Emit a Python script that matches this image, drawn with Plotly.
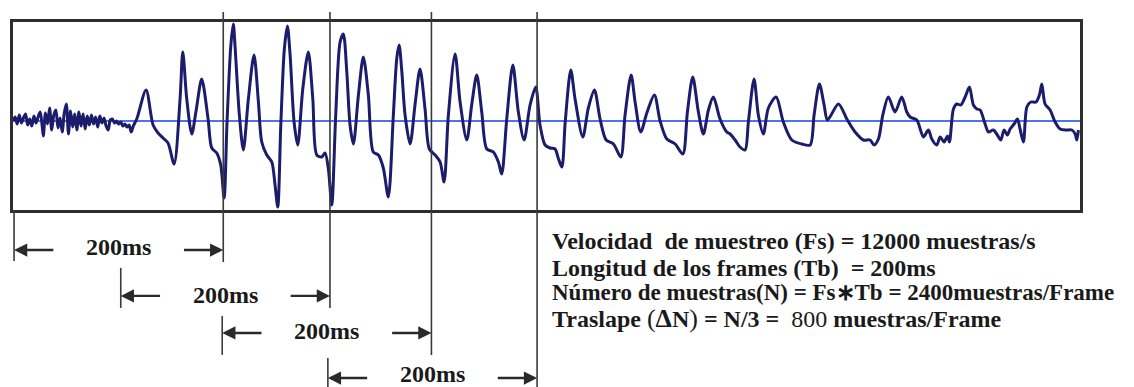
import plotly.graph_objects as go

# Speech waveform (time in ms, amplitude in arbitrary units)
t_ms = [
    -1, 1, 3, 5, 7, 9, 11, 13, 15, 17, 19, 21, 23, 25, 27, 28, 30, 32, 34, 36, 38, 40,
    42, 44, 46, 48, 50, 52, 54, 56, 58, 60, 62, 64, 66, 68, 70, 72, 74, 76, 78, 80,
    82, 84, 86, 88, 90, 92, 94, 96, 98, 100, 102, 104, 106, 108, 110, 112, 114,
    117.3, 126.2, 132.9, 137.7, 142.4, 147.2, 153, 158.7, 161.3, 165.1, 169.9, 174,
    179.4, 185.5, 189, 193.8, 197.6, 200.8, 203.6, 207.2, 209.6, 211.3, 215.4, 219.2,
    224, 229.4, 233.6, 236.8, 241.6, 246.4, 249.5, 252.1, 255, 258.4, 261.3, 263.9,
    267.7, 271.2, 276, 281.3, 285.6, 289.4, 294.2, 297.3, 300.5, 303.7, 307.5, 311.7,
    314.8, 318.1, 321.2, 324.4, 329.2, 333.9, 338.7, 343.4, 348.3, 353, 357.8, 362.6,
    365.9, 368.1, 370.6, 373.8, 378.6, 383.4, 388.1, 392.9, 397, 402.5, 407.3, 411.1,
    415.2, 421.6, 426.4, 432.8, 437.6, 442.3, 447.1, 451.9, 458.2, 463, 466.2, 471,
    476.8, 482.1, 487.6, 493.3, 498.7, 502.8, 507.6, 512.4, 517.2, 520.5, 523.7, 526.9,
    532.2, 536.3, 543.7, 549, 554.8, 560.2, 566, 573, 580, 584.1, 589.9, 593.7, 599.1,
    604.9, 612.1, 617.6, 624, 632, 639.3, 643.7, 648.8, 654.2, 659, 663.8, 668.5,
    674.9, 681.3, 684.5, 689.3, 694, 698.8, 702, 707.4, 711.5, 716.3, 721.1, 728.5,
    735.4, 743.5, 753, 761, 764.8, 769.9, 774.4, 777.6, 788.1, 796.1, 804, 812, 818.3,
    822.2, 826.3, 830.5, 835.8, 842.2, 848.6, 853.4, 856.6, 863, 869.3, 874.1, 877.3,
    882.1, 885.3, 889.1, 892.3, 894.2, 898, 901.2, 905.1, 909.2, 913.3, 917.1, 920.4,
    923.5, 928.3, 931.5, 936.2, 940, 943.3, 946.4, 949.6, 952.2, 956, 959.2, 961.7,
    964.9, 968.2, 972, 977, 980.2, 982.5, 985.6, 990.4, 995.2, 1000, 1006.4, 1011.2,
    1014.4, 1016, 1017.5,
]
amplitude = [
    0, 4, -3, 6, -2, 3, 7, -4, 2, -5, 5, -2, 4, 9, -6, -15, 8, -3, 13, -9, 6, 11,
    -7, 3, -11, 8, 17, -13, 10, -6, 7, -9, 9, -5, 7, -8, 5, -4, 6, -3, 4, -6,
    5, -2, 3, -5, -9, 1, 2, -2, 0, -3, -1, -5, -3, -6, -4, -11, -5,
    2, 31, -4, -12, -17, -22, -43, 22, 69, 22, -13, 10,
    42, 2, -27, -32, -44, -77, -1, 75, 97, 74, 6, -29,
    22, 66, 19, -21, -34, -41, -64, -86, -4, 72, 95, 66,
    -1, -24, 32, 69, 22, -34, -36, -32, -48, -84, 6, 79,
    87, 49, -4, -23, 26, 64, 26, -31, -34, -47, -76, 6,
    63, 76, 51, 6, -23, 17, 52, 12, -28, -34, -41, -61,
    6, 67, 19, -19, 17, 46, 9, -28, -31, -41, -53, 2,
    56, 9, -19, 16, 34, -4, -24, -27, -28, -38, -46, -1,
    51, 22, -16, 13, 31, 2, -19, -23, -36, 6, 46, 19, -11,
    8, 26, 0, -18, -23, -33, 9, 44, 9, -13, 11, 24,
    2, -11, -13, -19, -26, -29, -1, 42, 6, -13, 13, 24,
    -1, -19, -23, -24, 6, 37, 16, 1, 17, 2, -11, -19, -19,
    -24, -18, 6, 24, 9, 24, 9, 4, 1, -16, -9, -18,
    -24, -16, -21, -15, -21, 12, 17, 16, 24, 34, 16, 12,
    11, -3, -11, -9, -14, -19, -9, -14, -8, -3, 2, -8,
    -21, 14, 19, 19, 26, 37, 17, 11, -1, -8, -9, -9,
    -13, -19, -9,
]

# Analysis frames: start times (ms) and common length
frame_starts = [0, 102, 199, 300]
frame_length = 200
frame_label = "200ms"

info_lines = [
    "<b>Velocidad\u00a0 de muestreo (Fs) = 12000 muestras/s</b>",
    "<b>Longitud de los frames (Tb)\u00a0 = 200ms</b>",
    "<b>Número de muestras(N) = Fs∗Tb = 2400muestras/Frame</b>",
    "<b>Traslape </b><span style='font-size:26px'>(</span><b><span style='font-size:26px'>Δ</span>N</b>"
    "<span style='font-size:26px'>)</span><b> = N/3 =\u00a0 </b>800<b> muestras/Frame</b>",
]
info_sizes = [24, 24, 23, 24]

# Layout constants (paper units relative to the plot box)
X_RANGE = [-1, 1019]
Y_RANGE = [-89, 99]
line_top = 1.053
arrow_rows = [-0.213, -0.457, -0.654, -0.894]
label_rows = [-0.195, -0.452, -0.644, -0.872]
start_bars = [(0.0, -0.271), (-0.308, -0.521), (-0.564, -0.771), (-0.787, -0.96)]
end_bottoms = [-0.277, -0.521, -0.771, -0.96]
arrow_len = 39  # ms
info_y = [-0.165, -0.307, -0.44, -0.578]

WAVE = "#1c1c6c"
REF = "#3a3a3a"
SERIF = "Liberation Serif, Times New Roman, serif"

fig = go.Figure()
fig.add_trace(go.Scatter(
    x=t_ms, y=amplitude, mode="lines",
    line=dict(color=WAVE, width=3, shape="spline", smoothing=0.8),
    hoverinfo="skip", showlegend=False,
))

shapes = [
    # zero-amplitude reference line
    dict(type="line", xref="paper", yref="y", x0=0, x1=1, y0=0, y1=0,
         line=dict(color="#4f72ee", width=2), layer="below"),
]
annotations = []
for k, s in enumerate(frame_starts):
    e = s + frame_length
    shapes.append(dict(type="line", xref="x", yref="paper", x0=e, x1=e,
                       y0=end_bottoms[k], y1=line_top, line=dict(color=REF, width=1.6)))
    b0, b1 = start_bars[k]
    shapes.append(dict(type="line", xref="x", yref="paper", x0=s, x1=s,
                       y0=b1, y1=b0, line=dict(color=REF, width=1.6)))
    ya = arrow_rows[k]
    for head, tail in ((s, s + arrow_len), (e, e - arrow_len)):
        annotations.append(dict(
            x=head, y=ya, xref="x", yref="paper", ax=tail, ay=0,
            axref="x", ayref="pixel", text="", showarrow=True,
            arrowhead=2, arrowsize=1.1, arrowwidth=2.4, arrowcolor="#2a2a2a",
            standoff=0, startstandoff=0,
        ))
    annotations.append(dict(
        x=s + frame_length / 2, y=label_rows[k], xref="x", yref="paper",
        text=f"<b>{frame_label}</b>", showarrow=False, xanchor="center", yanchor="middle",
        font=dict(family=SERIF, size=24, color="#1a1a1a"),
    ))

for txt, y, size in zip(info_lines, info_y, info_sizes):
    annotations.append(dict(
        x=0.503, y=y, xref="paper", yref="paper", text=txt, showarrow=False,
        xanchor="left", yanchor="middle",
        font=dict(family=SERIF, size=size, color="#1a1a1a"),
    ))

fig.update_layout(
    width=1134, height=387,
    margin=dict(l=13, r=54, t=22, b=177),
    paper_bgcolor="white", plot_bgcolor="white",
    shapes=shapes, annotations=annotations,
    xaxis=dict(range=X_RANGE, showgrid=False, zeroline=False, showticklabels=False,
               ticks="", showline=True, mirror=True, linewidth=3, linecolor="#2e2e2e"),
    yaxis=dict(range=Y_RANGE, showgrid=False, zeroline=False, showticklabels=False,
               ticks="", showline=True, mirror=True, linewidth=3, linecolor="#2e2e2e"),
)

fig.write_html("out.html")
